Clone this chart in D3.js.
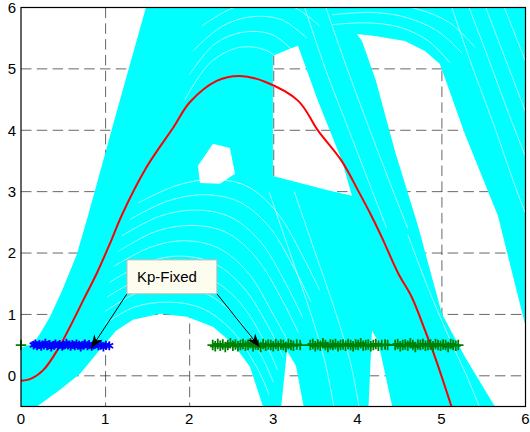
<!DOCTYPE html>
<html>
<head>
<meta charset="utf-8">
<script src="https://cdn.jsdelivr.net/npm/d3@7"></script>
<style>
  body { margin: 0; background: #fff; }
  svg { display: block; font-family: "Liberation Sans", Arial, sans-serif; }
</style>
</head>
<body>
<svg id="chart" width="530" height="432"></svg>
<script>
// axis setup
const xTicks = [0, 1, 2, 3, 4, 5, 6];
const yTicks = [0, 1, 2, 3, 4, 5, 6];

// envelope of the cyan trajectory cloud: whole plot minus the white holes
const cloudOuter = [[-0.2, -0.7], [6.2, -0.7], [6.2, 6.2], [-0.2, 6.2]];
const holeTopLeft = [[-0.2, 6.2], [1.52, 6.2], [1.486, 6], [1.141, 4.316], [0.797, 2.606], [0.666, 1.987],
  [0.488, 1.384], [0.345, 0.961], [0.226, 0.684], [0.143, 0.521], [0, 0.456], [-0.2, 0.45]];
const holeUnderHump = [[0.15, -0.7], [0.19, -0.5], [0.464, -0.228], [0.702, 0.033], [0.939, 0.423], [1.13, 0.733],
  [1.332, 0.912], [1.653, 1.01], [1.974, 0.961], [2.283, 0.798], [2.521, 0.521], [2.723, 0.147], [2.878, -0.5], [2.9, -0.7]];
const holeWedge = [[2.105, 3.42], [2.283, 3.779], [2.485, 3.713], [2.545, 3.29], [2.366, 3.127], [2.128, 3.143]];
const holeLeftOfRed = [[2.996, 5.212], [3.199, 5.326], [3.294, 5.375], [3.531, 4.479], [3.817, 3.502], [3.936, 2.932],
  [3.674, 3.013], [3.317, 3.143], [2.996, 3.257]];
const holeRight = [[3.995, 5.57], [4.209, 5.537], [4.566, 5.456], [4.804, 5.293], [4.982, 5.081], [5.279, 3.94],
  [5.672, 2.606], [5.993, 0.847], [6.2, 0.8], [6.2, -0.7], [5.62, -0.7], [5.636, -0.5], [5.279, 0.309],
  [5.006, 1.01], [4.721, 2.443], [4.447, 3.664], [4.221, 4.805], [4.055, 5.456]];
const holeBottomA = [[3.08, -0.7], [3.163, 0.407], [3.27, 0.163], [3.389, -0.7]];
const holeBottomB = [[4.126, -0.7], [4.174, 0.733], [4.245, 0.57], [4.447, -0.7]];

// white gaps between neighbouring trajectories inside the sparser parts of the cloud
const gapsHump = [
  [[1.0, 0.85], [1.35, 1.12], [1.75, 1.2], [2.15, 1.1], [2.5, 0.75], [2.8, 0.15], [2.95, -0.3]],
  [[1.0, 1.05], [1.4, 1.36], [1.8, 1.45], [2.2, 1.34], [2.55, 0.97], [2.85, 0.35], [3.0, -0.1]],
  [[1.02, 1.28], [1.45, 1.6], [1.85, 1.7], [2.25, 1.58], [2.6, 1.2], [2.9, 0.55], [3.05, 0.1]],
  [[1.05, 1.52], [1.5, 1.85], [1.9, 1.95], [2.3, 1.83], [2.65, 1.43], [2.95, 0.78], [3.12, 0.3]],
  [[1.1, 1.78], [1.55, 2.1], [1.95, 2.2], [2.35, 2.08], [2.7, 1.68], [3.0, 1.0], [3.2, 0.5]],
  [[1.15, 2.02], [1.6, 2.35], [2.05, 2.45], [2.45, 2.33], [2.8, 1.92], [3.1, 1.25], [3.3, 0.7]],
  [[1.2, 2.28], [1.65, 2.6], [2.1, 2.7], [2.5, 2.58], [2.85, 2.18], [3.15, 1.5], [3.35, 0.95]],
  [[1.3, 2.55], [1.75, 2.85], [2.2, 2.95], [2.6, 2.83], [2.95, 2.43], [3.25, 1.75], [3.45, 1.2]],
  [[1.4, 2.82], [1.85, 3.1], [2.3, 3.2], [2.7, 3.08], [3.05, 2.65], [3.35, 1.95], [3.55, 1.4]]];
const gapsTop = [
  [[1.95, 4.5], [2.25, 5.1], [2.6, 5.35], [2.95, 5.28], [3.2, 4.9]],
  [[2.0, 4.9], [2.3, 5.4], [2.65, 5.6], [3.0, 5.55], [3.3, 5.2]],
  [[2.05, 5.3], [2.4, 5.7], [2.75, 5.85], [3.1, 5.8], [3.4, 5.5]],
  [[2.15, 5.7], [2.5, 5.98], [2.85, 6.08], [3.25, 6.0], [3.55, 5.7]],
  [[3.7, 5.72], [4.1, 5.75], [4.5, 5.68], [4.85, 5.45], [5.1, 5.1]],
  [[3.7, 5.88], [4.15, 5.92], [4.55, 5.85], [4.95, 5.62], [5.25, 5.25]],
  [[3.8, 6.02], [4.3, 6.05], [4.7, 5.98], [5.1, 5.75], [5.4, 5.35]]];
const gapsFalling = [
  [[3.35, 6.1], [3.62, 5.0], [3.9, 4.0], [4.18, 3.0], [4.35, 2.4]],
  [[3.6, 6.1], [3.88, 5.0], [4.15, 4.0], [4.4, 3.1], [4.6, 2.4]],
  [[5.1, 6.1], [5.35, 5.1], [5.62, 4.1], [5.9, 3.0], [6.1, 2.3]],
  [[5.3, 6.1], [5.55, 5.2], [5.82, 4.2], [6.05, 3.4]],
  [[5.5, 6.1], [5.75, 5.2], [6.0, 4.3]],
  [[5.72, 6.1], [5.95, 5.3], [6.1, 4.8]],
  [[2.95, 3.0], [3.2, 2.0], [3.45, 1.0], [3.62, 0.2], [3.72, -0.5]],
  [[3.25, 3.0], [3.5, 2.0], [3.75, 1.0], [3.92, 0.2], [4.02, -0.5]],
  [[4.6, 2.3], [4.85, 1.4], [5.1, 0.6], [5.3, 0.0], [5.45, -0.5]]];

// mean trajectory (red)
const meanPath = [[0, -0.08], [0.107, -0.054], [0.265, 0.093], [0.444, 0.445], [0.583, 0.8], [0.741, 1.233],
  [0.9, 1.667], [1.058, 2.155], [1.2, 2.62], [1.494, 3.4], [1.811, 4.044], [2.01, 4.46], [2.327, 4.805],
  [2.604, 4.886], [2.901, 4.79], [3.297, 4.479], [3.535, 3.99], [3.813, 3.502], [4.011, 3.013], [4.17, 2.6],
  [4.289, 2.264], [4.487, 1.667], [4.645, 1.287], [4.804, 0.744], [4.923, 0.309], [5.12, -0.5]];

// release points (blue stars) and landing points (green pluses)
const blueStars = [[0.15, 0.5], [0.17, 0.52], [0.19, 0.49], [0.22, 0.51], [0.24, 0.48], [0.27, 0.5], [0.29, 0.53],
  [0.31, 0.49], [0.34, 0.51], [0.36, 0.47], [0.39, 0.5], [0.41, 0.52], [0.44, 0.49], [0.46, 0.51], [0.49, 0.48],
  [0.51, 0.5], [0.54, 0.53], [0.56, 0.5], [0.59, 0.48], [0.61, 0.51], [0.64, 0.49], [0.66, 0.52], [0.69, 0.5],
  [0.71, 0.47], [0.74, 0.5], [0.76, 0.52], [0.79, 0.49], [0.81, 0.51], [0.84, 0.48], [0.86, 0.5], [0.89, 0.52],
  [0.92, 0.49], [0.95, 0.5], [0.98, 0.47], [1.01, 0.5], [1.05, 0.49]];
const greenPluses = [[0, 0.5],
  [2.28, 0.5], [2.31, 0.48], [2.34, 0.52], [2.37, 0.49], [2.4, 0.51], [2.43, 0.47], [2.46, 0.5], [2.49, 0.53],
  [2.52, 0.49], [2.55, 0.51], [2.58, 0.48], [2.61, 0.5], [2.64, 0.52], [2.67, 0.49], [2.7, 0.5], [2.73, 0.53],
  [2.76, 0.48], [2.79, 0.51], [2.82, 0.5], [2.85, 0.47], [2.88, 0.52], [2.91, 0.49], [2.94, 0.51], [2.97, 0.5],
  [3.0, 0.48], [3.03, 0.52], [3.06, 0.49], [3.09, 0.51], [3.12, 0.5], [3.15, 0.47], [3.18, 0.52], [3.21, 0.5],
  [3.24, 0.49], [3.28, 0.51], [3.32, 0.5],
  [3.44, 0.5], [3.47, 0.52], [3.5, 0.48], [3.53, 0.51], [3.56, 0.49], [3.59, 0.53], [3.62, 0.5], [3.65, 0.47],
  [3.68, 0.51], [3.71, 0.5], [3.74, 0.52], [3.77, 0.48], [3.8, 0.5], [3.83, 0.51], [3.86, 0.49], [3.89, 0.52],
  [3.92, 0.5], [3.95, 0.48], [3.98, 0.51], [4.01, 0.5], [4.04, 0.53], [4.07, 0.49], [4.1, 0.5], [4.13, 0.51],
  [4.16, 0.48], [4.19, 0.5], [4.22, 0.52], [4.25, 0.49], [4.29, 0.5], [4.33, 0.51], [4.36, 0.5],
  [4.45, 0.5], [4.48, 0.52], [4.51, 0.48], [4.54, 0.5], [4.57, 0.51], [4.6, 0.49], [4.63, 0.53], [4.66, 0.5],
  [4.69, 0.47], [4.72, 0.51], [4.75, 0.5], [4.78, 0.52], [4.81, 0.49], [4.84, 0.5], [4.87, 0.51], [4.9, 0.48],
  [4.93, 0.52], [4.96, 0.5], [4.99, 0.49], [5.02, 0.51], [5.05, 0.5], [5.08, 0.47], [5.11, 0.52], [5.14, 0.5],
  [5.17, 0.49], [5.2, 0.5]];

// annotation
const noteText = "Kp-Fixed";
const noteBox = [[1.26, 1.889], [2.33, 1.335]];
const noteTails = [[1.26, 1.335], [2.33, 1.335]];
const noteTips = [[0.83, 0.44], [2.842, 0.461]];

const svg = d3.select('#chart');
const x = d3.scaleLinear().domain([0, 6]).range([21, 525.5]);
const y = d3.scaleLinear().domain([-0.5, 6]).range([406.5, 7.5]);

svg.append('defs').append('clipPath').attr('id', 'plotClip')
  .append('rect')
  .attr('x', x(0)).attr('y', y(6))
  .attr('width', x(6) - x(0)).attr('height', y(-0.5) - y(6));

const plot = svg.append('g').attr('clip-path', 'url(#plotClip)');

// grid (under the data, as in the source figure)
const grid = plot.append('g')
  .attr('stroke', '#000')
  .attr('stroke-opacity', 0.6)
  .attr('stroke-width', 1)
  .attr('stroke-dasharray', '10.5,5.3');
grid.selectAll('.gx').data(xTicks.slice(1, -1)).join('line')
  .attr('x1', d => x(d) + 0.5).attr('x2', d => x(d) + 0.5)
  .attr('y1', y(6)).attr('y2', y(-0.5));
grid.selectAll('.gy').data(yTicks.slice(0, -1)).join('line')
  .attr('y1', d => y(d)).attr('y2', d => y(d))
  .attr('x1', x(0)).attr('x2', x(6));

// cyan trajectory cloud
const poly = d3.line().x(d => x(d[0])).y(d => y(d[1]));
const holes = [holeTopLeft, holeUnderHump, holeWedge, holeLeftOfRed, holeRight, holeBottomA, holeBottomB];
const cloudPath = [cloudOuter, ...holes].map(p => poly(p) + 'Z').join('');
plot.append('path')
  .attr('d', cloudPath)
  .attr('fill', '#00ffff')
  .attr('fill-rule', 'evenodd');

const smooth = d3.line().x(d => x(d[0])).y(d => y(d[1])).curve(d3.curveCatmullRom);
plot.append('g').selectAll('path').data([...gapsHump, ...gapsTop, ...gapsFalling]).join('path')
  .attr('d', smooth)
  .attr('fill', 'none')
  .attr('stroke', '#fff')
  .attr('stroke-opacity', 0.8)
  .attr('stroke-width', 0.8);

// mean trajectory
plot.append('path')
  .datum(meanPath)
  .attr('d', smooth)
  .attr('fill', 'none')
  .attr('stroke', '#ff0000')
  .attr('stroke-width', 2);

// markers
const star = d3.symbol().type(d3.symbolAsterisk).size(55);
const plus = d3.symbol().type(d3.symbolPlus).size(38);
svg.append('g').selectAll('path').data(blueStars).join('path')
  .attr('transform', d => `translate(${x(d[0])},${y(d[1])})`)
  .attr('d', star)
  .attr('fill', 'none')
  .attr('stroke', '#0000ff')
  .attr('stroke-width', 1.8);
svg.append('g').selectAll('path').data(greenPluses).join('path')
  .attr('transform', d => `translate(${x(d[0])},${y(d[1])})`)
  .attr('d', plus)
  .attr('fill', 'none')
  .attr('stroke', '#008000')
  .attr('stroke-width', 1.8);

// axes box
svg.append('rect')
  .attr('x', x(0)).attr('y', y(6))
  .attr('width', x(6) - x(0)).attr('height', y(-0.5) - y(6))
  .attr('fill', 'none')
  .attr('stroke', '#000')
  .attr('stroke-width', 1.2);

// tick labels
svg.append('g').selectAll('text').data(xTicks).join('text')
  .attr('x', d => x(d)).attr('y', 424)
  .attr('text-anchor', 'middle')
  .attr('font-size', 15)
  .text(d => d);
svg.append('g').selectAll('text').data(yTicks).join('text')
  .attr('x', 16).attr('y', d => y(d))
  .attr('dy', '0.36em')
  .attr('text-anchor', 'end')
  .attr('font-size', 15)
  .text(d => d);

// annotation arrows
const arrows = svg.append('g');
noteTails.forEach((t, i) => {
  const x1 = x(t[0]), y1 = y(t[1]);
  const x2 = x(noteTips[i][0]), y2 = y(noteTips[i][1]);
  const a = Math.atan2(y2 - y1, x2 - x1);
  const len = 14, half = 5;
  arrows.append('line')
    .attr('x1', x1).attr('y1', y1).attr('x2', x2 - Math.cos(a) * 6).attr('y2', y2 - Math.sin(a) * 6)
    .attr('stroke', '#000').attr('stroke-width', 1);
  const bx = x2 - Math.cos(a) * len, by = y2 - Math.sin(a) * len;
  arrows.append('path')
    .attr('d', `M${x2},${y2}L${bx - Math.sin(a) * half},${by + Math.cos(a) * half}` +
      `L${x2 - Math.cos(a) * len * 0.7},${y2 - Math.sin(a) * len * 0.7}` +
      `L${bx + Math.sin(a) * half},${by - Math.cos(a) * half}Z`)
    .attr('fill', '#000');
});

// annotation box
svg.append('rect')
  .attr('x', x(noteBox[0][0])).attr('y', y(noteBox[0][1]))
  .attr('width', x(noteBox[1][0]) - x(noteBox[0][0]))
  .attr('height', y(noteBox[1][1]) - y(noteBox[0][1]))
  .attr('fill', '#fdfdef')
  .attr('stroke', '#b8b8b8')
  .attr('stroke-width', 1);
svg.append('text')
  .attr('x', x(noteBox[0][0]) + 10)
  .attr('y', y(noteBox[1][1]) - 12)
  .attr('font-size', 15)
  .text(noteText);
</script>
</body>
</html>
